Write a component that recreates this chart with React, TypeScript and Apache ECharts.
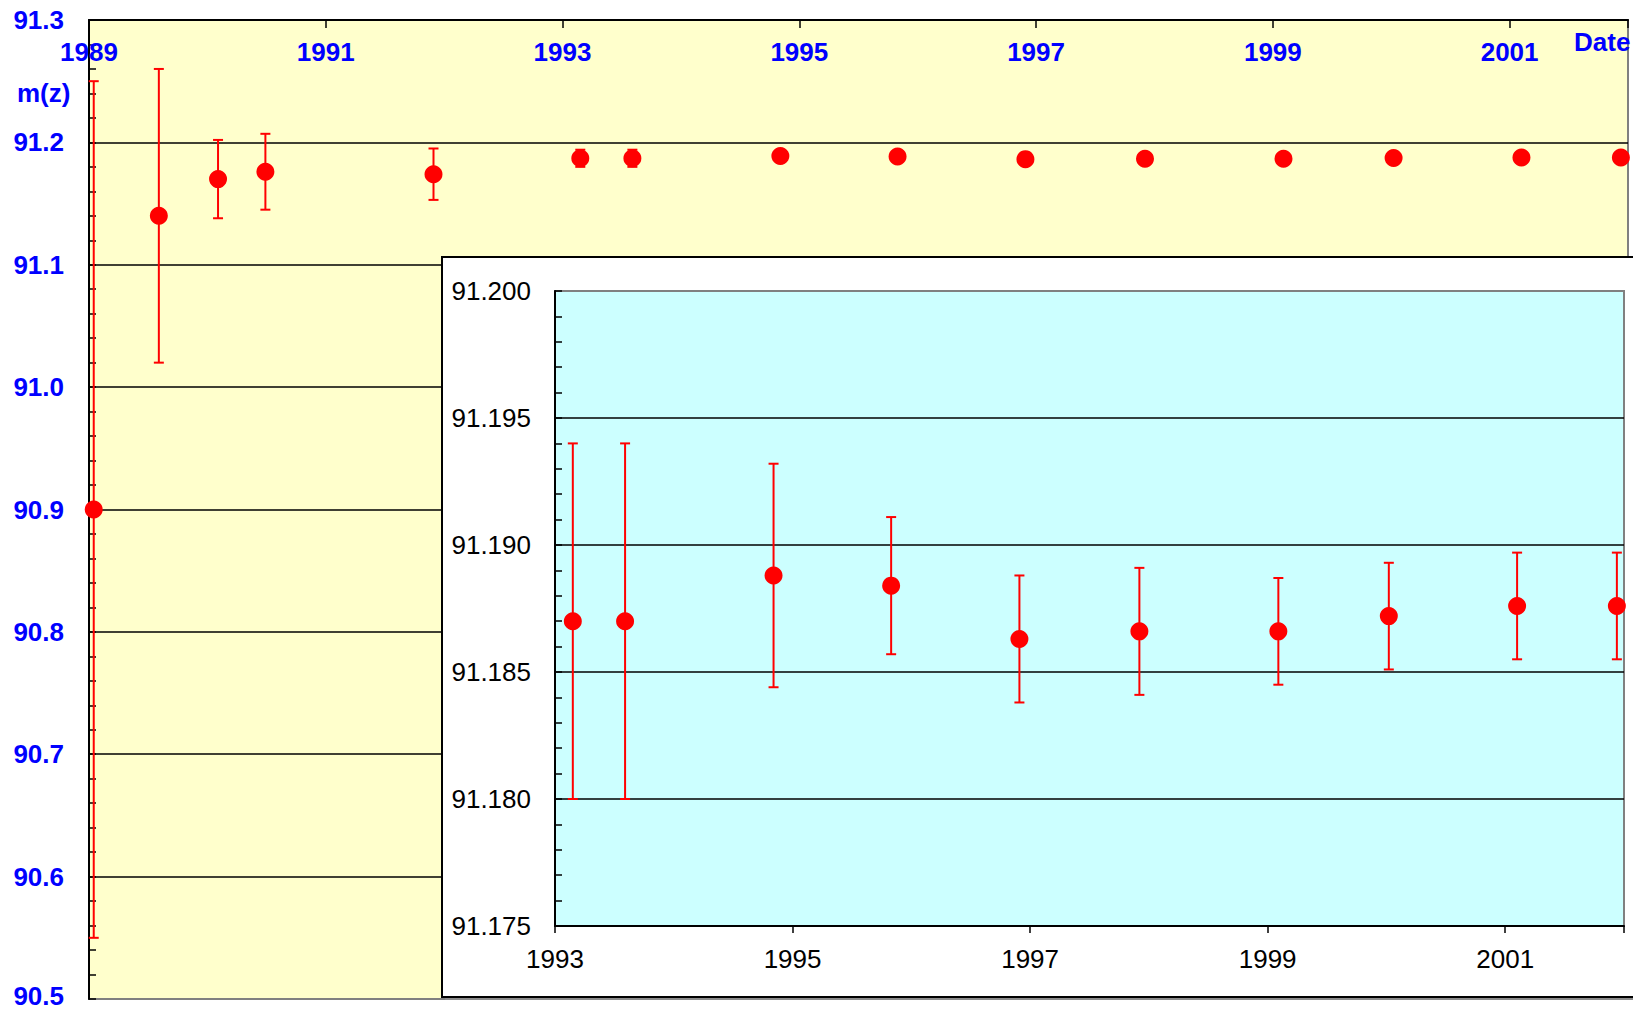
import React, { useEffect, useRef } from "react";
import * as echarts from "echarts";

// ---- data ----
const dates = [1989.04, 1989.59, 1990.09, 1990.49, 1991.91, 1993.15, 1993.59, 1994.84, 1995.83, 1996.91, 1997.92, 1999.09, 2000.02, 2001.1, 2001.94];
const mz = [90.9, 91.14, 91.17, 91.176, 91.174, 91.187, 91.187, 91.1888, 91.1884, 91.1863, 91.1866, 91.1866, 91.1872, 91.1876, 91.1876];
const mzErr = [0.35, 0.12, 0.032, 0.031, 0.021, 0.007, 0.007, 0.0044, 0.0027, 0.0025, 0.0025, 0.0021, 0.0021, 0.0021, 0.0021];

const mainYearTicks = [1989, 1991, 1993, 1995, 1997, 1999, 2001];
const insetYearTicks = [1993, 1995, 1997, 1999, 2001];
const mainYRange = [90.5, 91.3];
const insetYRange = [91.175, 91.2];
const mainXRange = [1989, 2002];
const insetXRange = [1993, 2002];

const FONT = "'Liberation Sans', Arial, sans-serif";
const BLUE = "#0000FF";
const RED = "#FF0000";

function errRender(params: any, api: any) {
  const x = api.value(0);
  const lo = api.coord([x, api.value(1)]);
  const hi = api.coord([x, api.value(2)]);
  const hw = 5;
  const style = { stroke: RED, lineWidth: 2 };
  return {
    type: "group",
    children: [
      { type: "line", shape: { x1: lo[0], y1: lo[1], x2: hi[0], y2: hi[1] }, style },
      { type: "line", shape: { x1: hi[0] - hw, y1: hi[1], x2: hi[0] + hw, y2: hi[1] }, style },
      { type: "line", shape: { x1: lo[0] - hw, y1: lo[1], x2: lo[0] + hw, y2: lo[1] }, style },
    ],
  };
}

export default function App() {
  const ref = useRef<HTMLDivElement>(null);
  useEffect(() => {
    document.body.style.margin = "0";
    const chart = echarts.init(ref.current!, null, { renderer: "svg" });
    const x0 = mainXRange[0];
    const i0 = insetXRange[0];
    const mainPts = dates.map((d, i) => [d - x0, mz[i]]);
    const mainErr = dates.map((d, i) => [d - x0, mz[i] - mzErr[i], mz[i] + mzErr[i]]);
    const insetIdx = dates.map((d, i) => i).filter((i) => dates[i] >= i0);
    const insetPts = insetIdx.map((i) => [dates[i] - i0, mz[i]]);
    const insetErr = insetIdx.map((i) => [dates[i] - i0, mz[i] - mzErr[i], mz[i] + mzErr[i]]);

    const option: any = {
      animation: false,
      backgroundColor: "#FFFFFF",
      textStyle: { fontFamily: FONT },
      grid: [
        {
          left: 89, top: 20, right: 5, bottom: 13, z: 0, outerBoundsMode: "none", containLabel: false,
          show: true, backgroundColor: "#FFFFCC", borderColor: "#808080", borderWidth: 2,
        },
        {
          left: 555, top: 291, right: 9, bottom: 86, z: 6, outerBoundsMode: "none", containLabel: false,
          show: true, backgroundColor: "#CCFFFF", borderColor: "#808080", borderWidth: 2,
        },
      ],
      xAxis: [
        {
          type: "value", gridIndex: 0, position: "top", z: 1,
          min: 0, max: mainXRange[1] - x0, interval: 2,
          axisLine: { show: true, lineStyle: { color: "#000", width: 2 } },
          axisTick: { show: true, inside: true, length: 8, lineStyle: { color: "#000", width: 1.5 } },
          splitLine: { show: false },
          axisLabel: {
            inside: true, margin: 32, verticalAlign: "middle",
            color: BLUE, fontWeight: "bold", fontSize: 26, fontFamily: FONT,
            formatter: (v: number) => (mainYearTicks.includes(Math.round(v + x0)) && Math.abs(v - Math.round(v)) < 1e-6 ? String(Math.round(v + x0)) : ""),
          },
        },
        {
          type: "value", gridIndex: 1, position: "bottom", z: 7,
          min: 0, max: insetXRange[1] - i0, interval: 2,
          axisLine: { show: true, lineStyle: { color: "#000", width: 2 } },
          axisTick: { show: true, inside: false, length: 7, lineStyle: { color: "#000", width: 1.5 } },
          splitLine: { show: false },
          axisLabel: {
            margin: 33, verticalAlign: "middle",
            color: "#000", fontSize: 26, fontFamily: FONT,
            formatter: (v: number) => (insetYearTicks.includes(Math.round(v + i0)) && Math.abs(v - Math.round(v)) < 1e-6 ? String(Math.round(v + i0)) : ""),
          },
        },
      ],
      yAxis: [
        {
          type: "value", gridIndex: 0, z: 1,
          min: mainYRange[0], max: mainYRange[1], interval: 0.1,
          axisLine: { show: true, lineStyle: { color: "#000", width: 2 } },
          axisTick: { show: true, inside: true, length: 7, lineStyle: { color: "#000", width: 1.5 } },
          minorTick: { show: true, splitNumber: 5, length: 7, lineStyle: { color: "#000", width: 1.5 } },
          splitLine: { show: true, showMinLine: false, lineStyle: { color: "#000", width: 1.5 } },
          axisLabel: {
            margin: 25, color: BLUE, fontWeight: "bold", fontSize: 26, lineHeight: 20, fontFamily: FONT,
            formatter: (v: number) => (Math.abs(v - mainYRange[0]) < 1e-9 ? `{lo|${v.toFixed(1)}}` : v.toFixed(1)),
            rich: {
              lo: { color: BLUE, fontWeight: "bold", fontSize: 26, lineHeight: 20, fontFamily: FONT, padding: [0, 0, 6, 0] },
            },
          },
        },
        {
          type: "value", gridIndex: 1, z: 7,
          min: insetYRange[0], max: insetYRange[1], interval: 0.005,
          axisLine: { show: true, lineStyle: { color: "#000", width: 2 } },
          axisTick: { show: true, inside: true, length: 7, lineStyle: { color: "#000", width: 1.5 } },
          minorTick: { show: true, splitNumber: 5, length: 7, lineStyle: { color: "#000", width: 1.5 } },
          splitLine: { show: true, showMinLine: false, showMaxLine: false, lineStyle: { color: "#000", width: 1.5 } },
          axisLabel: {
            margin: 24, color: "#000", fontSize: 26, fontFamily: FONT,
            formatter: (v: number) => v.toFixed(3),
          },
        },
      ],
      graphic: [
        { type: "rect", z: 5, shape: { x: 445, y: 260, width: 1200, height: 740 }, style: { fill: "#8c8c8c" } },
        { type: "rect", z: 5, shape: { x: 442, y: 257, width: 1200, height: 740 }, style: { fill: "#FFFFFF", stroke: "#000", lineWidth: 2 } },
        { type: "text", z: 4, x: 17, y: 93, style: { text: "m(z)", fill: BLUE, font: `bold 26px ${FONT}`, verticalAlign: "middle" } },
        { type: "text", z: 4, x: 1574, y: 42, style: { text: "Date", fill: BLUE, font: `bold 26px ${FONT}`, verticalAlign: "middle" } },
      ],
      series: [
        {
          type: "custom", xAxisIndex: 0, yAxisIndex: 0, z: 2,
          renderItem: errRender, encode: { x: 0, y: [1, 2] }, data: mainErr,
        },
        {
          type: "scatter", xAxisIndex: 0, yAxisIndex: 0, z: 3,
          symbol: "circle", symbolSize: 18, itemStyle: { color: RED, opacity: 1 }, data: mainPts,
        },
        {
          type: "custom", xAxisIndex: 1, yAxisIndex: 1, z: 8,
          renderItem: errRender, encode: { x: 0, y: [1, 2] }, data: insetErr,
        },
        {
          type: "scatter", xAxisIndex: 1, yAxisIndex: 1, z: 9,
          symbol: "circle", symbolSize: 18, itemStyle: { color: RED, opacity: 1 }, data: insetPts,
        },
      ],
    };
    chart.setOption(option);
    return () => chart.dispose();
  }, []);
  return <div ref={ref} style={{ position: "absolute", left: 0, top: 0, width: 1633, height: 1012 }} />;
}
